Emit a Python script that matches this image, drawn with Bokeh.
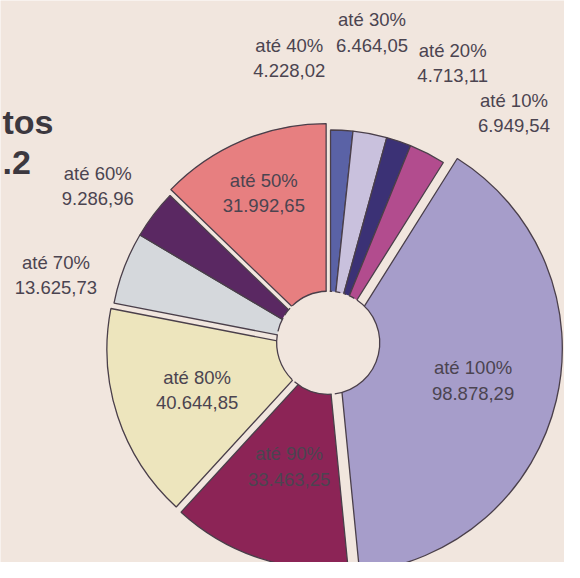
import numpy as np
from bokeh.plotting import figure
from bokeh.models import Range1d, ColumnDataSource
from bokeh.core.properties import value
from bokeh.embed import file_html
from bokeh.resources import INLINE

# ---------------- data ----------------
faixas = ["até 40%", "até 30%", "até 20%", "até 10%", "até 100%",
          "até 90%", "até 80%", "até 70%", "até 60%", "até 50%"]
valores = [4228.02, 6464.05, 4713.11, 6949.54, 98878.29,
           33463.25, 40644.85, 13625.73, 9286.96, 31992.65]
titulo_fragmentos = ["tos", ".2"]

# ---------------- style ----------------
cores = ["#5a62a6", "#c9c1dd", "#3b3175", "#b24c8e", "#a69dca",
         "#8c2456", "#ede5bd", "#d5d8dc", "#5a2862", "#e77f80"]
grupos = ["A", "A", "A", "A", "B", "C", "D", "E", "E", "F"]
explode = {"A": 5, "B": 9, "C": 7, "D": 9, "E": 6, "F": 8}
raio_grupo = {"A": 218, "B": 231, "C": 222, "D": 220, "E": 220, "F": 222}
dentro = [False, False, False, False, True, True, True, False, False, True]
raio_rotulo = [0, 0, 0, 0, 143, 123, 134, 0, 0, 164]
# hand placed outside labels (reference pixel positions)
fora_xy = {0: (297, 59), 1: (382, 33), 2: (465, 64), 3: (528, 116),
           7: (57, 282), 8: (100, 191)}

PAPEL = "#f1e6de"
CONTORNO = "#4a3f4a"
TEXTO = "#4b4450"
FONTE = "Liberation Sans"
CX, CY = 338, -356
HX, HY = 337, -352
R_FURO = 53

def fmt(v):
    s = f"{v:,.2f}"
    return s.replace(",", "X").replace(".", ",").replace("X", ".")

vals = np.array(valores)
frac = vals / vals.sum()
fim = np.cumsum(frac) * 360.0
ini = fim - frac * 360.0
meio = (ini + fim) / 2

gmid = {}
for g in set(grupos):
    idx = [i for i, gg in enumerate(grupos) if gg == g]
    gmid[g] = (ini[idx].min() + fim[idx].max()) / 2

xs, ys, rs = [], [], []
for i, g in enumerate(grupos):
    d = explode[g]
    a = np.radians(gmid[g])
    xs.append(CX + d * np.sin(a))
    ys.append(CY + d * np.cos(a))
    rs.append(raio_grupo[g])

start = np.radians(90 - fim)
end = np.radians(90 - ini)

src = ColumnDataSource(dict(x=xs, y=ys, r=rs, start=start, end=end, cor=cores))

p = figure(width=564, height=562, output_backend="svg", toolbar_location=None,
           x_range=Range1d(0, 580), y_range=Range1d(-578, 0),
           min_border=0, background_fill_color=PAPEL, border_fill_color=PAPEL)
p.axis.visible = False
p.grid.visible = False
p.outline_line_color = None

p.wedge(x="x", y="y", radius="r", start_angle="start", end_angle="end",
        fill_color="cor", line_color=CONTORNO, line_width=1.3, source=src)

# hole
p.scatter(x=[HX], y=[HY], size=2 * R_FURO * 564 / 580, marker="circle",
          fill_color=PAPEL, line_color=None)
p.arc(x=[HX] * len(valores), y=[HY] * len(valores), radius=R_FURO,
      start_angle=list(start + 0.03), end_angle=list(end - 0.03),
      line_color=CONTORNO, line_width=1.3)

# labels
lx, ly, lt = [], [], []
for i in range(len(valores)):
    txt = f"{faixas[i]}\n{fmt(valores[i])}"
    if dentro[i]:
        a = np.radians(meio[i])
        lx.append(xs[i] + raio_rotulo[i] * np.sin(a))
        ly.append(ys[i] + raio_rotulo[i] * np.cos(a))
    else:
        x0, y0 = fora_xy[i]
        lx.append(x0)
        ly.append(-y0)
    lt.append(txt)

p.text(x=lx, y=ly, text=lt, text_align="center", text_baseline="middle",
       text_font=value(FONTE), text_font_size="18.5px", text_color=TEXTO,
       text_line_height=1.2)

# title fragments at the left edge
p.text(x=[2, 2], y=[-125, -167], text=titulo_fragmentos, text_align="left",
       text_baseline="alphabetic", text_font=value(FONTE), text_font_size="34px",
       text_font_style="bold", text_color="#3c383f")

open("out.html", "w").write(file_html(p, INLINE))
